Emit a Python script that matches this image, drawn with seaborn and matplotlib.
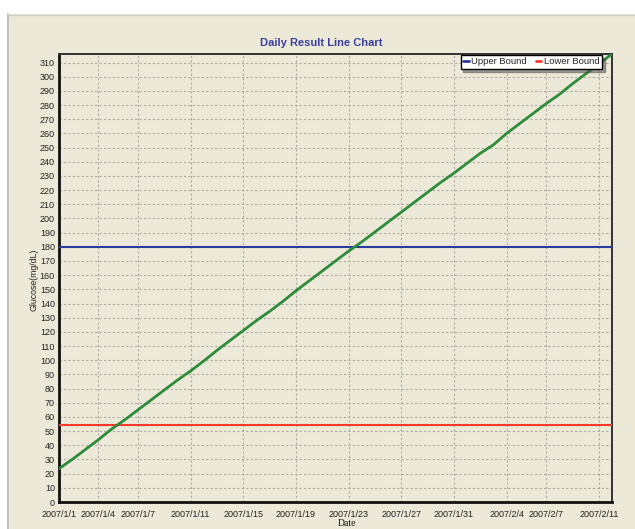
import matplotlib
matplotlib.use("Agg")
import matplotlib.pyplot as plt
import matplotlib.dates as mdates
from matplotlib.patches import Rectangle
from matplotlib.lines import Line2D
import seaborn as sns
import pandas as pd

# Daily glucose readings, 2007/1/1 through 2007/2/12
dates = pd.date_range("2007-01-01", "2007-02-12", freq="D")
glucose = [23.5, 30, 37, 44, 51.5, 58, 65, 72, 79, 86,
           92.5, 99.5, 107, 114, 121, 128, 134.5, 141.5, 149, 156,
           163, 170, 177, 183.5, 190.5, 197.5, 204.5, 211.5, 218.5, 225.5,
           232, 239, 246, 252, 260, 267, 274, 281, 287.5, 295,
           302, 309, 316]

upper_bound = 180
lower_bound = 54

tick_labels = ["2007/1/1", "2007/1/4", "2007/1/7", "2007/1/11", "2007/1/15",
               "2007/1/19", "2007/1/23", "2007/1/27", "2007/1/31", "2007/2/4",
               "2007/2/7", "2007/2/11"]
y_ticks = list(range(0, 320, 10))

bg = "#ECE9D8"
sns.set_theme(style="white")
plt.rcParams["font.family"] = ["Liberation Sans", "DejaVu Sans"]

fig = plt.figure(figsize=(6.35, 5.29), dpi=100, facecolor=bg)
# white margin around the window panel
fig.patches.append(Rectangle((0, 1 - 14 / 529), 1, 14 / 529, transform=fig.transFigure,
                             facecolor="white", edgecolor="none", zorder=0))
fig.patches.append(Rectangle((0, 0), 7 / 635, 1, transform=fig.transFigure,
                             facecolor="white", edgecolor="none", zorder=0))
fig.add_artist(Line2D([7.5 / 635, 7.5 / 635], [0, 1 - 14 / 529], transform=fig.transFigure,
                      color="#B8B8B0", lw=1.2))
fig.add_artist(Line2D([7.5 / 635, 1], [1 - 14.5 / 529, 1 - 14.5 / 529], transform=fig.transFigure,
                      color="#D0D0C8", lw=1.0))

ax = fig.add_axes([59 / 635, 1 - 502 / 529, (612 - 59) / 635, (502 - 54) / 529])
ax.set_facecolor(bg)

df = pd.DataFrame({"Date": dates, "Glucose": glucose})
sns.lineplot(data=df, x="Date", y="Glucose", ax=ax, color="#2E8B3A", lw=2.0, zorder=4)
ax.axhline(upper_bound, color="#2B3A9E", lw=1.5, zorder=3)
ax.axhline(lower_bound, color="#FF3A2A", lw=1.5, zorder=3)

ax.set_xlim(pd.Timestamp("2007-01-01"), pd.Timestamp("2007-02-12"))
ax.set_ylim(0, 316)

tick_dates = pd.to_datetime(tick_labels, format="%Y/%m/%d")
ax.set_xticks(tick_dates)
ax.set_xticklabels(tick_labels)
ax.xaxis.set_minor_locator(mdates.DayLocator())
ax.set_yticks(y_ticks)
ax.set_yticklabels([str(v) for v in y_ticks])

ax.tick_params(axis="x", which="major", labelsize=6.5, length=3, width=0.8,
               direction="in", pad=6, colors="#222222")
ax.tick_params(axis="x", which="minor", length=2.5, width=0.7, direction="in", color="#444444")
ax.tick_params(axis="y", which="major", labelsize=6.5, length=2, width=0.8,
               direction="out", pad=1, colors="#222222")

ax.grid(True, which="major", color="#ABABA3", lw=0.8, ls=(0, (2, 2)))
ax.set_axisbelow(True)

for side in ["left", "bottom"]:
    ax.spines[side].set_linewidth(2.0)
    ax.spines[side].set_color("#111111")
for side in ["top", "right"]:
    ax.spines[side].set_linewidth(1.4)
    ax.spines[side].set_color("#333333")

ax.set_xlabel("")
ax.set_ylabel("")
fig.text(347 / 635, 1 - 523 / 529, "Date", ha="center", va="center", fontsize=7,
         family=["Liberation Serif", "DejaVu Serif"], color="#111111")
fig.text(34 / 635, 1 - 280 / 529, "Glucose(mg/dL)", ha="center", va="center",
         rotation=90, fontsize=6.3, color="#222222")
fig.text(321 / 635, 1 - 43 / 529, "Daily Result Line Chart", ha="center", va="center",
         fontsize=8, fontweight="bold", color="#3A3F9E")

handles = [Line2D([], [], color="#2B3A9E", lw=2), Line2D([], [], color="#FF3A2A", lw=2)]
leg = ax.legend(handles, ["Upper Bound", "Lower Bound"], ncol=2, loc="upper right",
                bbox_to_anchor=(602 / 635, 1 - 55 / 529), bbox_transform=fig.transFigure,
                fontsize=6.8, frameon=True, fancybox=False, shadow=True,
                handlelength=0.6, handletextpad=0.3, columnspacing=0.9,
                borderpad=0.25, borderaxespad=0)
leg.get_frame().set_edgecolor("#000000")
leg.get_frame().set_linewidth(1.0)
leg.get_frame().set_facecolor("white")
leg.set_zorder(5)

fig.savefig("out.png", dpi=100, facecolor=fig.get_facecolor())
